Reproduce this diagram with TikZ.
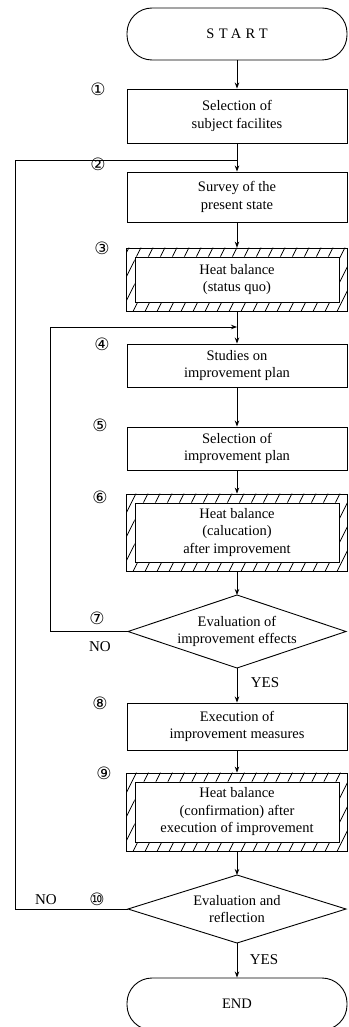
\documentclass[tikz,border=0pt]{standalone}
\usepackage{fontspec}
\setmainfont{Liberation Serif}
\newfontfamily\circfont{DejaVu Sans}
\newfontfamily\spacedfont[LetterSpace=30]{Liberation Serif}
\usetikzlibrary{arrows.meta,calc,fit}
\newcommand\hatchfill[2]{%
  \begin{scope}[even odd rule]
    \clip (#1.south west) rectangle (#1.north east)
          (#2.south west) rectangle (#2.north east);
    \foreach \k in {-16,...,16}
      \draw[hatch] ($(#1.south)+(\k*12-20,0)$) -- ++(40,80);
  \end{scope}}
\begin{document}
\begin{tikzpicture}[x=1pt,y=1pt,
  line width=0.9pt,
  every node/.style={font=\fontsize{14.5}{17.5}\selectfont},
  box/.style={draw, minimum width=220pt, align=center, inner sep=2pt},
  innerbox/.style={draw, minimum width=204pt, align=center, inner sep=2pt},
  outerbox/.style={draw, inner xsep=8pt, inner ysep=8.5pt},
  term/.style={draw, rounded corners=25pt, minimum width=220pt, minimum height=52pt},
  num/.style={font=\circfont\fontsize{17}{17}\selectfont},
  lbl/.style={font=\fontsize{15}{15}\selectfont},
  flow/.style={-{Stealth[length=6pt,width=4.5pt]}},
  hatch/.style={line width=0.8pt},
]
\useasboundingbox (0,0) rectangle (348,-1027);

% main column
\node[term] (start) at (237,-34) {\spacedfont START};
\node[box, minimum height=54pt] (b1) at (237,-116) {Selection of\\subject facilites};
\node[box, minimum height=50pt] (b2) at (237,-197) {Survey of the\\present state};
\node[innerbox, minimum height=45pt] (h3) at (237,-279.5) {Heat balance\\(status quo)};
\node[outerbox, fit=(h3)] (H3) {};
\node[box, minimum height=43pt] (b4) at (237,-365.5) {Studies on\\improvement plan};
\node[box, minimum height=43pt] (b5) at (237,-448.5) {Selection of\\improvement plan};
\node[innerbox, minimum height=59pt] (h6) at (237,-532.5) {Heat balance\\(calucation)\\after improvement};
\node[outerbox, fit=(h6)] (H6) {};
\node[align=center] (d7) at (237,-631.5) {Evaluation of\\improvement effects};
\coordinate (d7n) at (237,-595);
\coordinate (d7s) at (237,-668);
\coordinate (d7w) at (128,-631.5);
\coordinate (d7e) at (346,-631.5);
\draw (d7n) -- (d7e) -- (d7s) -- (d7w) -- cycle;
\node[box, minimum height=47pt] (b8) at (237,-726.5) {Execution of\\improvement measures};
\node[innerbox, minimum height=60pt] (h9) at (237,-812) {Heat balance\\(confirmation) after\\execution of improvement};
\node[outerbox, fit=(h9)] (H9) {};
\node[align=center] (d10) at (237,-909) {Evaluation and\\reflection};
\coordinate (d10n) at (237,-875);
\coordinate (d10s) at (237,-943);
\coordinate (d10w) at (128,-909);
\coordinate (d10e) at (346,-909);
\draw (d10n) -- (d10e) -- (d10s) -- (d10w) -- cycle;
\node[term] (end) at (237,-1004) {END};

% hatching
\hatchfill{H3}{h3}
\hatchfill{H6}{h6}
\hatchfill{H9}{h9}

% connectors
\coordinate (j1) at (237,-160);
\coordinate (j2) at (237,-327);
\draw[flow] (start) -- (b1);
\draw[flow] (b1) -- (b2);
\draw[flow] (b2) -- (H3);
\draw[flow] (H3) -- (b4);
\draw[flow] (b4) -- (b5);
\draw[flow] (b5) -- (H6);
\draw[flow] (H6) -- (d7n);
\draw[flow] (d7s) -- (b8);
\draw[flow] (b8) -- (H9);
\draw[flow] (H9) -- (d10n);
\draw[flow] (d10s) -- (end);
\draw[flow] (d7w) -- ++(-78,0) |- (j2);
\draw (d10w) -- ++(-113,0) |- (j1);

% step numbers and labels
\node[num] (n1) at (98,-89) {①};
\node[num] (n2) at (98,-164) {②};
\node[num] (n3) at (102,-248) {③};
\node[num] (n4) at (102,-344) {④};
\node[num] (n5) at (100,-425) {⑤};
\node[num] (n6) at (100,-497) {⑥};
\node[num] (n7) at (97,-618) {⑦};
\node[num] (n8) at (100,-703) {⑧};
\node[num] (n9) at (104,-773) {⑨};
\node[num] (n10) at (97,-899) {⑩};
\node[lbl] (no7) at (100,-647) {NO};
\node[lbl] (yes7) at (265,-683) {YES};
\node[lbl] (no10) at (46,-900) {NO};
\node[lbl] (yes10) at (264,-960) {YES};
\end{tikzpicture}
\end{document}
